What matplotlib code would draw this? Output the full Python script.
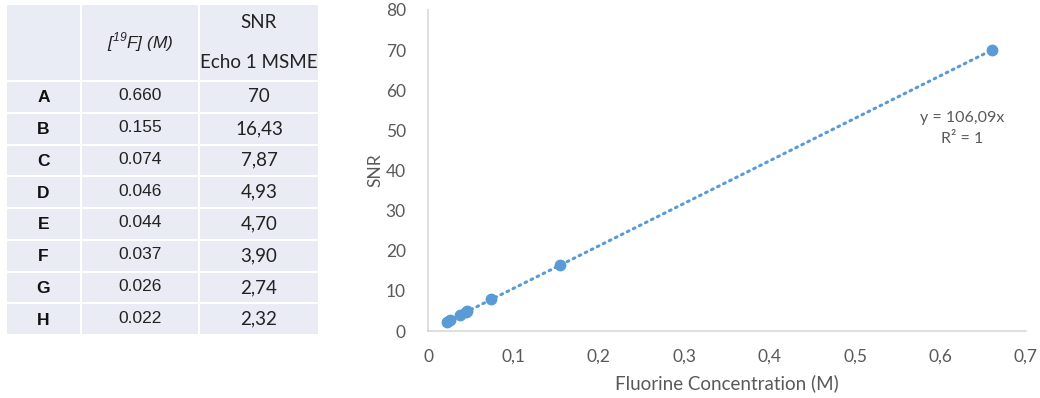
import numpy as np
import matplotlib.pyplot as plt
from matplotlib.patches import Rectangle

# table / chart data
labels = ['A', 'B', 'C', 'D', 'E', 'F', 'G', 'H']
conc = [0.660, 0.155, 0.074, 0.046, 0.044, 0.037, 0.026, 0.022]
conc_txt = ['0.660', '0.155', '0.074', '0.046', '0.044', '0.037', '0.026', '0.022']
snr = [70, 16.43, 7.87, 4.93, 4.70, 3.90, 2.74, 2.32]
snr_txt = ['70', '16,43', '7,87', '4,93', '4,70', '3,90', '2,74', '2,32']
xticks = [0, 0.1, 0.2, 0.3, 0.4, 0.5, 0.6, 0.7]
xtick_txt = ['0', '0,1', '0,2', '0,3', '0,4', '0,5', '0,6', '0,7']
yticks = [0, 10, 20, 30, 40, 50, 60, 70, 80]
eq_txt = 'y = 106,09x\nR² = 1'

blue = '#5B9BD5'
gray = '#595959'
cell_col = '#E9EBF5'

fig = plt.figure(figsize=(10.4, 3.98), dpi=100)

# ---- table, drawn in pixel coordinates ----
tab = fig.add_axes([0, 0, 1, 1])
tab.set_xlim(0, 1040)
tab.set_ylim(398, 0)
tab.axis('off')

cols = [(7, 80), (82, 198), (200, 318)]
head_top, head_bot = 5, 80
row_top0, row_step, gap = 82, 31.75, 2

for c0, c1 in cols:
    tab.add_patch(Rectangle((c0, head_top), c1 - c0, head_bot - head_top,
                            facecolor=cell_col, edgecolor='none'))
    for i in range(len(labels)):
        t = row_top0 + i * row_step
        tab.add_patch(Rectangle((c0, t), c1 - c0, row_step - gap,
                                facecolor=cell_col, edgecolor='none'))

cx = [(c0 + c1) / 2 for c0, c1 in cols]
tab.text(cx[1], 42, r'[$^{\mathregular{19}}$F] (M)', ha='center', va='center',
         fontsize=12.5, style='italic', family='Liberation Sans', color='#222222')
tab.text(cx[2], 22, 'SNR', ha='center', va='center', fontsize=13.5,
         family='Lato', color='#222222')
tab.text(cx[2], 63, 'Echo 1 MSME', ha='center', va='center', fontsize=13.5,
         family='Lato', color='#222222')

for i, lab in enumerate(labels):
    yc = row_top0 + i * row_step + (row_step - gap) / 2
    tab.text(cx[0], yc + 1, lab, ha='center', va='center', fontsize=12.5,
             weight='bold', family='Liberation Sans', color='#111111')
    tab.text(cx[1], yc - 1, conc_txt[i], ha='center', va='center', fontsize=12.5,
             family='Liberation Sans', color='#222222')
    tab.text(cx[2], yc, snr_txt[i], ha='center', va='center', fontsize=13.5,
             family='Lato', color='#222222')

# ---- scatter chart ----
ax = fig.add_axes([428 / 1040, 67 / 398, 598 / 1040, 321 / 398])
x = np.array(conc)
y = np.array(snr)
slope = (x * y).sum() / (x * x).sum()
xf = np.array([x.min(), x.max()])
ax.plot(xf, slope * xf, linestyle=(0, (0.6, 1.6)), dash_capstyle='round',
        color=blue, lw=2.2, zorder=2)
ax.plot(x, y, 'o', color=blue, markersize=7.5, zorder=3)

ax.set_xlim(0, 0.7)
ax.set_ylim(0, 80)
ax.set_xticks(xticks)
ax.set_xticklabels(xtick_txt)
ax.set_yticks(yticks)
for s in ['top', 'right']:
    ax.spines[s].set_visible(False)
for s in ['left', 'bottom']:
    ax.spines[s].set_color('#D9D9D9')
    ax.spines[s].set_linewidth(1.2)
ax.tick_params(length=0, labelsize=12.5, labelcolor=gray, pad=13)
ax.tick_params(axis='y', pad=16)
for t in ax.get_xticklabels() + ax.get_yticklabels():
    t.set_family('Lato')
ax.set_xlabel('Fluorine Concentration (M)', fontsize=13.5, color=gray,
              family='Lato')
ax.set_ylabel('SNR', fontsize=12.5, color=gray, family='Lato')
ax.xaxis.set_label_coords(0.5, -0.135)
ax.yaxis.set_label_coords(-0.075, 0.5)

ax.text(0.625, 50.5, eq_txt, ha='center', va='center', fontsize=11.5,
        color=gray, family='Lato', linespacing=1.6)

fig.savefig('out.png', dpi=100)
